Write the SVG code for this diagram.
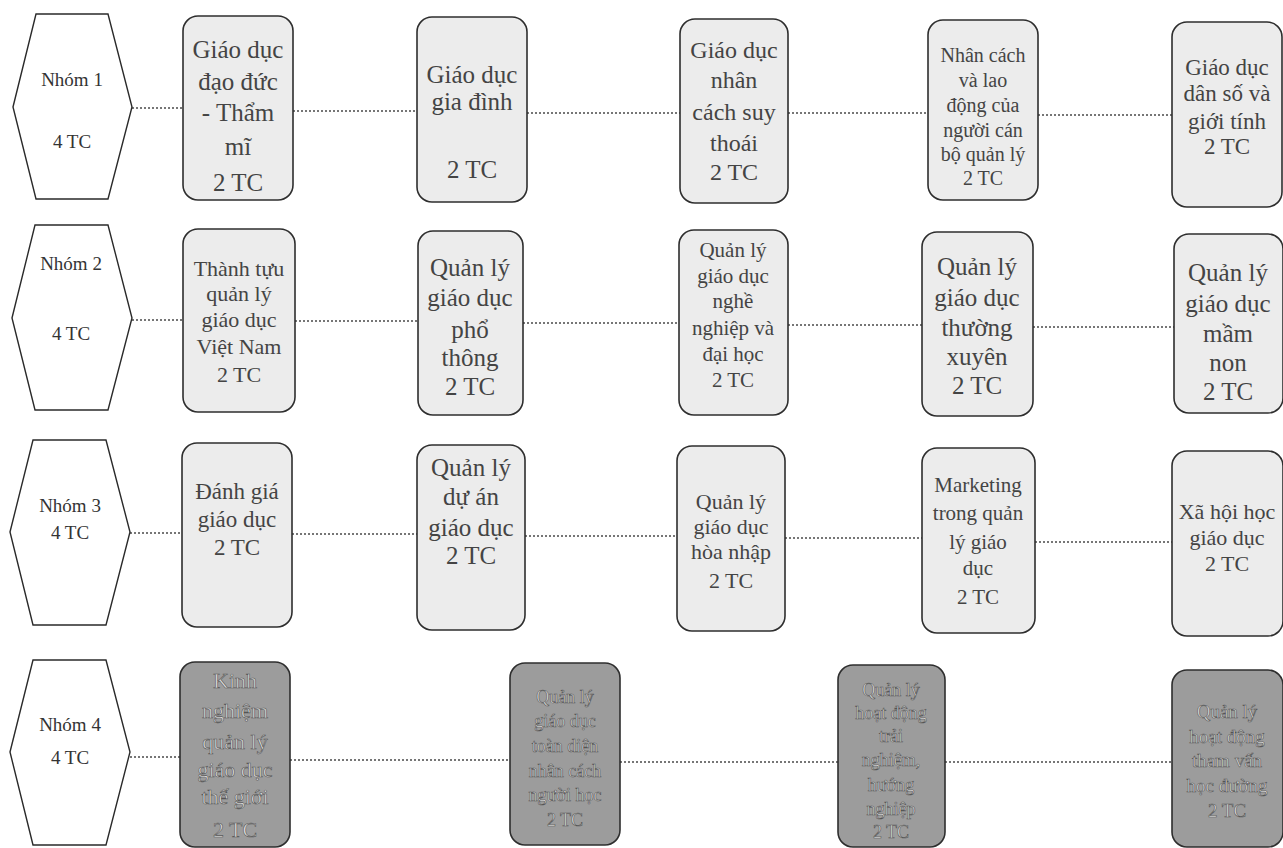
<svg xmlns="http://www.w3.org/2000/svg" width="1283" height="848" viewBox="0 0 1283 848">
<style>
.bg{fill:#ffffff}
.hex{fill:#ffffff;stroke:#2a2a2a;stroke-width:1.4}
.box{fill:#ececec;stroke:#2e2e2e;stroke-width:1.6}
.dark{fill:#9c9c9c;stroke:#2e2e2e;stroke-width:1.6}
.conn line{stroke:#4a4a4a;stroke-width:1.3;stroke-dasharray:2 2}
text{font-family:"Liberation Serif","Times New Roman",serif;text-anchor:middle;fill:#444444}
.h{font-size:19px;fill:#333}
.dt{fill:#dcdcdc;stroke:#555555;stroke-width:0.6}
</style>
<rect class="bg" x="0" y="0" width="1283" height="848"/>

<g id="connectors" class="conn">
<line x1="132" y1="108" x2="183" y2="108"/>
<line x1="293" y1="111" x2="417" y2="111"/>
<line x1="527" y1="113" x2="680" y2="113"/>
<line x1="788" y1="113" x2="928" y2="113"/>
<line x1="1038" y1="115" x2="1172" y2="115"/>

<line x1="132" y1="320" x2="183" y2="320"/>
<line x1="295" y1="321" x2="418" y2="321"/>
<line x1="523" y1="323" x2="679" y2="323"/>
<line x1="788" y1="325" x2="922" y2="325"/>
<line x1="1033" y1="327" x2="1174" y2="327"/>

<line x1="130" y1="533" x2="182" y2="533"/>
<line x1="292" y1="534" x2="417" y2="534"/>
<line x1="525" y1="536" x2="677" y2="536"/>
<line x1="785" y1="538" x2="922" y2="538"/>
<line x1="1035" y1="542" x2="1172" y2="542"/>

<line x1="130" y1="757" x2="180" y2="757"/>
<line x1="290" y1="760" x2="510" y2="760"/>
<line x1="620" y1="762" x2="838" y2="762"/>
<line x1="945" y1="762" x2="1172" y2="762"/>
</g>

<!-- Row 1 -->
<g id="nhom1">
<polygon class="hex" points="13,107 36,14 108,14 132,107 108,199 36,199"/>
<text class="h" x="72" y="86">Nhóm 1</text>
<text class="h" x="72" y="148">4 TC</text>
</g>
<g id="r1b1" style="font-size:25px">
<rect class="box" x="183" y="16" width="110" height="184" rx="15"/>
<text x="238" y="58">Giáo dục</text>
<text x="238" y="90">đạo đức</text>
<text x="238" y="121">- Thẩm</text>
<text x="238" y="155">mĩ</text>
<text x="238" y="191">2 TC</text>
</g>
<g id="r1b2" style="font-size:25px">
<rect class="box" x="417" y="17" width="110" height="185" rx="15"/>
<text x="472" y="83">Giáo dục</text>
<text x="472" y="110">gia đình</text>
<text x="472" y="178">2 TC</text>
</g>
<g id="r1b3" style="font-size:24px">
<rect class="box" x="680" y="19" width="108" height="184" rx="15"/>
<text x="734" y="58">Giáo dục</text>
<text x="734" y="88">nhân</text>
<text x="734" y="120">cách suy</text>
<text x="734" y="151">thoái</text>
<text x="734" y="180">2 TC</text>
</g>
<g id="r1b4" style="font-size:20px">
<rect class="box" x="928" y="20" width="110" height="180" rx="15"/>
<text x="983" y="62">Nhân cách</text>
<text x="983" y="87">và lao</text>
<text x="983" y="112">động của</text>
<text x="983" y="137">người cán</text>
<text x="983" y="161">bộ quản lý</text>
<text x="983" y="185">2 TC</text>
</g>
<g id="r1b5" style="font-size:23px">
<rect class="box" x="1172" y="22" width="110" height="185" rx="15"/>
<text x="1227" y="75">Giáo dục</text>
<text x="1227" y="101">dân số và</text>
<text x="1227" y="129">giới tính</text>
<text x="1227" y="154">2 TC</text>
</g>

<!-- Row 2 -->
<g id="nhom2">
<polygon class="hex" points="12,318 35,225 108,225 132,318 108,410 35,410"/>
<text class="h" x="71" y="270">Nhóm 2</text>
<text class="h" x="71" y="340">4 TC</text>
</g>
<g id="r2b1" style="font-size:22px">
<rect class="box" x="183" y="229" width="112" height="183" rx="15"/>
<text x="239" y="276">Thành tựu</text>
<text x="239" y="301">quản lý</text>
<text x="239" y="327">giáo dục</text>
<text x="239" y="354">Việt Nam</text>
<text x="239" y="382">2 TC</text>
</g>
<g id="r2b2" style="font-size:25px">
<rect class="box" x="418" y="231" width="105" height="184" rx="15"/>
<text x="470" y="276">Quản lý</text>
<text x="470" y="306">giáo dục</text>
<text x="470" y="338">phổ</text>
<text x="470" y="366">thông</text>
<text x="470" y="395">2 TC</text>
</g>
<g id="r2b3" style="font-size:21px">
<rect class="box" x="679" y="230" width="109" height="185" rx="15"/>
<text x="733" y="257">Quản lý</text>
<text x="733" y="283">giáo dục</text>
<text x="733" y="308">nghề</text>
<text x="733" y="335">nghiệp và</text>
<text x="733" y="361">đại học</text>
<text x="733" y="387">2 TC</text>
</g>
<g id="r2b4" style="font-size:25px">
<rect class="box" x="922" y="232" width="111" height="184" rx="15"/>
<text x="977" y="275">Quản lý</text>
<text x="977" y="306">giáo dục</text>
<text x="977" y="336">thường</text>
<text x="977" y="365">xuyên</text>
<text x="977" y="394">2 TC</text>
</g>
<g id="r2b5" style="font-size:25px">
<rect class="box" x="1174" y="234" width="109" height="179" rx="15"/>
<text x="1228" y="281">Quản lý</text>
<text x="1228" y="312">giáo dục</text>
<text x="1228" y="342">mầm</text>
<text x="1228" y="371">non</text>
<text x="1228" y="400">2 TC</text>
</g>

<!-- Row 3 -->
<g id="nhom3">
<polygon class="hex" points="10,532 33,440 106,440 130,532 106,625 33,625"/>
<text class="h" x="70" y="512">Nhóm 3</text>
<text class="h" x="70" y="539">4 TC</text>
</g>
<g id="r3b1" style="font-size:23px">
<rect class="box" x="182" y="443" width="110" height="184" rx="15"/>
<text x="237" y="499">Đánh giá</text>
<text x="237" y="527">giáo dục</text>
<text x="237" y="555">2 TC</text>
</g>
<g id="r3b2" style="font-size:25px">
<rect class="box" x="417" y="445" width="108" height="185" rx="15"/>
<text x="471" y="476">Quản lý</text>
<text x="471" y="505">dự án</text>
<text x="471" y="536">giáo dục</text>
<text x="471" y="564">2 TC</text>
</g>
<g id="r3b3" style="font-size:22px">
<rect class="box" x="677" y="446" width="108" height="185" rx="15"/>
<text x="731" y="509">Quản lý</text>
<text x="731" y="534">giáo dục</text>
<text x="731" y="559">hòa nhập</text>
<text x="731" y="588">2 TC</text>
</g>
<g id="r3b4" style="font-size:21px">
<rect class="box" x="922" y="448" width="113" height="185" rx="15"/>
<text x="978" y="492">Marketing</text>
<text x="978" y="520">trong quản</text>
<text x="978" y="549">lý giáo</text>
<text x="978" y="575">dục</text>
<text x="978" y="604">2 TC</text>
</g>
<g id="r3b5" style="font-size:22px">
<rect class="box" x="1172" y="451" width="111" height="185" rx="15"/>
<text x="1227" y="519">Xã hội học</text>
<text x="1227" y="545">giáo dục</text>
<text x="1227" y="571">2 TC</text>
</g>

<!-- Row 4 -->
<g id="nhom4">
<polygon class="hex" points="10,752 33,660 106,660 130,752 106,845 33,845"/>
<text class="h" x="70" y="731">Nhóm 4</text>
<text class="h" x="70" y="764">4 TC</text>
</g>
<g id="r4b1" style="font-size:22px">
<rect class="dark" x="180" y="662" width="110" height="185" rx="15"/>
<text class="dt" x="235" y="688">Kinh</text>
<text class="dt" x="235" y="718">nghiệm</text>
<text class="dt" x="235" y="749">quản lý</text>
<text class="dt" x="235" y="777">giáo dục</text>
<text class="dt" x="235" y="804">thế giới</text>
<text class="dt" x="235" y="837">2 TC</text>
</g>
<g id="r4b2" style="font-size:18px">
<rect class="dark" x="510" y="663" width="110" height="182" rx="15"/>
<text class="dt" x="565" y="703">Quản lý</text>
<text class="dt" x="565" y="727">giáo dục</text>
<text class="dt" x="565" y="752">toàn diện</text>
<text class="dt" x="565" y="777">nhân cách</text>
<text class="dt" x="565" y="801">người học</text>
<text class="dt" x="565" y="826">2 TC</text>
</g>
<g id="r4b3" style="font-size:18px">
<rect class="dark" x="838" y="665" width="107" height="182" rx="15"/>
<text class="dt" x="891" y="696">Quản lý</text>
<text class="dt" x="891" y="719">hoạt động</text>
<text class="dt" x="891" y="742">trải</text>
<text class="dt" x="891" y="766">nghiệm,</text>
<text class="dt" x="891" y="791">hướng</text>
<text class="dt" x="891" y="815">nghiệp</text>
<text class="dt" x="891" y="838">2 TC</text>
</g>
<g id="r4b4" style="font-size:19px">
<rect class="dark" x="1172" y="670" width="111" height="177" rx="15"/>
<text class="dt" x="1227" y="718">Quản lý</text>
<text class="dt" x="1227" y="743">hoạt động</text>
<text class="dt" x="1227" y="767">tham vấn</text>
<text class="dt" x="1227" y="792">học đường</text>
<text class="dt" x="1227" y="817">2 TC</text>
</g>
</svg>
